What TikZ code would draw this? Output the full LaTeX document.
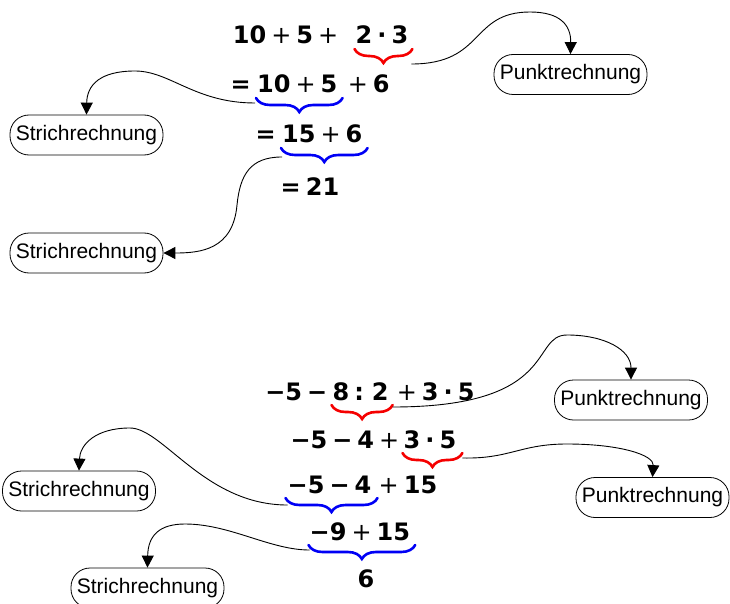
\documentclass[tikz,border=0pt]{standalone}
\usepackage{fontspec}
\setmainfont{Liberation Sans}
\newfontfamily\exprfont{DejaVu Sans}
\newcommand{\exprtext}{\exprfont\bfseries\fontsize{24}{28}\selectfont\setlength{\spaceskip}{5pt}}
\newcommand{\pls}{{\mdseries +}}
\usetikzlibrary{arrows.meta, positioning, calc, decorations.pathreplacing}
\definecolor{punktred}{RGB}{245,0,0}
\definecolor{strichblue}{RGB}{0,0,245}

\begin{document}
\begin{tikzpicture}[x=1pt, y=-1pt,
    expr/.style={inner sep=0pt, font=\exprtext},
    tagbox/.style={draw, line width=0.8pt, rounded corners=19pt, minimum width=153pt, minimum height=40pt, inner sep=0pt, font=\fontsize{21}{25}\selectfont},
    redbrace/.style={draw=punktred, line width=2.6pt, line cap=round, decorate, decoration={brace, mirror, amplitude=14pt}},
    bluebrace/.style={draw=strichblue, line width=2.6pt, line cap=round, decorate, decoration={brace, mirror, amplitude=14pt}},
    link/.style={line width=0.9pt, -{Triangle[length=12pt, width=12pt]}}
]
    \useasboundingbox (0,0) rectangle (730,604);

    % first example
    \node[expr, anchor=base west] (l1b) at (355.5,44) {2 · 3};
    \node[expr, base left=17pt of l1b] (l1a) {10 \pls{} 5 \pls};
    \node[expr, anchor=base west] (l2b) at (257,93) {10 \pls{} 5};
    \node[expr, base left=6pt of l2b] (l2a) {=};
    \node[expr, base right=10pt of l2b] (l2c) {\pls{} 6};
    \node[expr, anchor=base west] (l3b) at (282,143) {15 \pls{} 6};
    \node[expr, base left=6pt of l3b] (l3a) {=};
    \node[expr, anchor=base west] (l4) at (280.5,195) {= 21};

    \draw[redbrace] ($(l1b.base west)+(-1,5)$) -- ($(l1b.base east)+(4,5)$);
    \draw[bluebrace] ($(l2b.base west)+(-1,5)$) -- ($(l2b.base east)+(5,5)$);
    \draw[bluebrace] ($(l3b.base west)+(-1,5)$) -- ($(l3b.base east)+(5,5)$);

    \node[tagbox] (p1) at (570.5,74.5) {Punktrechnung};
    \node[tagbox] (s1) at (86.5,135) {Strichrechnung};
    \node[tagbox] (s2) at (86.5,253) {Strichrechnung};

    \coordinate (b1) at ($(l1b.base east)+(3,20)$);
    \coordinate (b2) at ($(l2b.base west)+(-2,10)$);
    \coordinate (b3) at ($(l3b.base west)+(0,14)$);

    \draw[link] (b1) .. controls (485,64) and (470,12) .. (530,12)
        .. controls (560,12) and (571,25) .. (p1.north);
    \draw[link] (b2) .. controls (195,103) and (170,71) .. (135,71)
        .. controls (100,71) and (87,85) .. (s1.north);
    \draw[link] (b3) .. controls (250,157) and (240,175) .. (237,205)
        .. controls (233,250) and (200,253) .. (s2.east);

    % second example
    \node[expr, anchor=base west] (l5b) at (332.5,400) {8 : 2};
    \node[expr, base left=5pt of l5b] (l5a) {−5 −};
    \node[expr, base right=8pt of l5b] (l5c) {\pls{} 3 · 5};
    \node[expr, anchor=base west] (l6b) at (403.5,448) {3 · 5};
    \node[expr, base left=4pt of l6b] (l6a) {−5 − 4 \pls};
    \node[expr, anchor=base west] (l7a) at (287.5,493) {−5 − 4};
    \node[expr, base right=7pt of l7a] (l7b) {\pls{} 15};
    \node[expr, anchor=base west] (l8) at (309.5,540) {−9 \pls{} 15};
    \node[expr, anchor=base] (l9) at (366,587) {6};

    \draw[redbrace] ($(l5b.base west)+(-1,5)$) -- ($(l5b.base east)+(4,5)$);
    \draw[redbrace] ($(l6b.base west)+(-1,5)$) -- ($(l6b.base east)+(6,5)$);
    \draw[bluebrace] ($(l7a.base west)+(-2,5)$) -- ($(l7a.base east)+(6,5)$);
    \draw[bluebrace] ($(l8.base west)+(-1,5)$) -- ($(l8.base east)+(5,5)$);

    \node[tagbox] (p3) at (631,400) {Punktrechnung};
    \node[tagbox] (p4) at (652.5,497.5) {Punktrechnung};
    \node[tagbox] (s3) at (79,491) {Strichrechnung};
    \node[tagbox] (s4) at (147.5,588) {Strichrechnung};

    \coordinate (b5) at ($(l5b.base east)+(4,7)$);
    \coordinate (b6) at ($(l6b.base east)+(6,10)$);
    \coordinate (b7) at ($(l7a.base west)+(0,12)$);
    \coordinate (b8) at ($(l8.base west)+(0,10)$);

    \draw[link] (b5) .. controls (560,407) and (530,335) .. (567,335)
        .. controls (605,335) and (631,350) .. (p3.north);
    \draw[link] (b6) .. controls (510,459) and (520,444) .. (567,444)
        .. controls (620,444) and (654,455) .. (p4.north);
    \draw[link] (b7) .. controls (205,505) and (163,428) .. (130,428)
        .. controls (95,428) and (80,445) .. (s3.north);
    \draw[link] (b8) .. controls (270,550) and (230,524) .. (185,524)
        .. controls (160,524) and (148,535) .. (s4.north);
\end{tikzpicture}
\end{document}
